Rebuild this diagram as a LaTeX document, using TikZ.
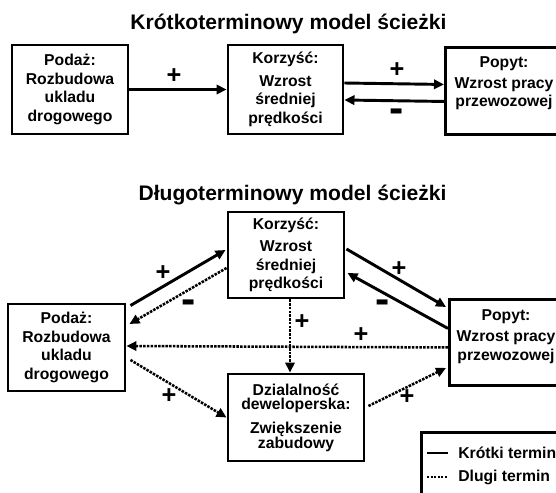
\documentclass[tikz,border=0pt]{standalone}
\usepackage{fontspec}
\setmainfont{Liberation Sans}
\usetikzlibrary{arrows.meta}

\begin{document}
\begin{tikzpicture}[x=0.75pt,y=-0.75pt,>=Triangle]
  \tikzset{
    box/.style={draw, line width=2.2pt, align=center, inner sep=1pt, font=\bfseries\fontsize{11.8}{13.9}\selectfont},
    boxtext/.style={align=center, inner sep=0pt, font=\bfseries\fontsize{11.8}{13.9}\selectfont},
    heading/.style={font=\bfseries\fontsize{15.8}{18}\selectfont},
    plus/.style={font=\bfseries\fontsize{19}{19}\selectfont, inner sep=0pt},
    minus/.style={font=\bfseries\fontsize{32}{32}\selectfont, inner sep=0pt},
    shortarr/.style={line width=2.2pt, -{Triangle[length=7.5pt,width=7pt]}},
    longarr/.style={line width=1.9pt, dash pattern=on 1.9pt off 0.9pt, -{Triangle[length=7.5pt,width=7pt]}},
    legtext/.style={anchor=west, inner sep=0pt, font=\bfseries\fontsize{11.8}{13.9}\selectfont}
  }
  \useasboundingbox (0,0) rectangle (556,492);
  \clip (0,0) rectangle (556,492);
  % short term
  \node[heading] (title1) at (288.5,24) {Krótkoterminowy model ścieżki};
  \node[box, minimum width=87pt, minimum height=66.75pt] (p1) at (70,89.5) {Podaż:\\Rozbudowa\\ukladu\\drogowego};
  \node[box, minimum width=86.25pt, minimum height=66.75pt] (k1) at (285.5,89.5) {Korzyść:\\[3pt]Wzrost\\średniej\\prędkości};
  \node[box, minimum width=100pt, minimum height=65.25pt, anchor=north west] (pp1) at (444,46) {};
  \node[boxtext, anchor=north] (pp1t) at (504,56) {Popyt:\\[2pt]Wzrost pracy\\przewozowej};
  \draw[shortarr] (p1) -- (k1);
  \draw[shortarr] ([shift={(0,-6.5)}]k1.east) -- ([shift={(0,-6.5)}]pp1.west);
  \draw[shortarr] ([shift={(0,10.5)}]pp1.west) -- ([shift={(0,10.5)}]k1.east);
  \node[plus] (s1) at (174,76) {+};
  \node[plus] (s2) at (397,70) {+};
  \node[minus] (s3) at (397,116) {-};
  % long term
  \node[heading] (title2) at (292.5,195) {Długoterminowy model ścieżki};
  \node[box, minimum width=87pt, minimum height=64.5pt] (k2) at (286,255) {Korzyść:\\[3pt]Wzrost\\średniej\\prędkości};
  \node[box, minimum width=87.75pt, minimum height=65.25pt] (p2) at (66.5,347.5) {Podaż:\\Rozbudowa\\ukladu\\drogowego};
  \node[box, minimum width=100pt, minimum height=64.5pt, anchor=north west] (pp2) at (448,298) {};
  \node[boxtext, anchor=north] (pp2t) at (506,309.5) {Popyt:\\[2pt]Wzrost pracy\\przewozowej};
  \node[box, minimum width=102pt, minimum height=65.25pt, font={\bfseries\fontsize{11.8}{10.9}\selectfont\lineskiplimit=-20pt}] (d) at (296,417.5) {Dzialalność\\deweloperska:\\[7pt]Zwiększenie\\zabudowy};
  \draw[shortarr] ([shift={(4,3)}]p2.north east) -- ([shift={(-1,-5)}]k2.west);
  \draw[longarr] ([shift={(0,13)}]k2.west) -- ([shift={(3,-23.5)}]p2.east);
  \draw[shortarr] ([shift={(1,-6)}]k2.east) -- ([shift={(-2,9)}]pp2.north west);
  \draw[shortarr] ([shift={(0,-14)}]pp2.west) -- ([shift={(2,18)}]k2.east);
  \draw[longarr] ([shift={(4,0)}]k2.south) -- ([shift={(-6,0)}]d.north);
  \draw[longarr] ([shift={(0,5)}]pp2.west) -- ([shift={(0,-1.5)}]p2.east);
  \draw[longarr] ([shift={(4,12.5)}]p2.east) -- (d.west);
  \draw[longarr] ([shift={(3,-11.5)}]d.east) -- ([shift={(-2,-19)}]pp2.south west);
  \node[plus] (s4) at (163,273) {+};
  \node[minus] (s5) at (189,307) {-};
  \node[plus] (s6) at (399,269) {+};
  \node[minus] (s7) at (383,307) {-};
  \node[plus] (s8) at (302,322) {+};
  \node[plus] (s9) at (361,335) {+};
  \node[plus] (s10) at (169,396) {+};
  \node[plus] (s11) at (407,397) {+};
  % legend
  \node[draw, line width=2.2pt, minimum width=120pt, minimum height=60pt, anchor=north west] (leg) at (420,431) {};
  \node[legtext] (kt) at (458,453) {Krótki termin};
  \node[legtext] (dt) at (458,477) {Dlugi termin};
  \draw[line width=1.5pt] ([shift={(-31,0)}]kt.west) -- ([shift={(-10,0)}]kt.west);
  \draw[line width=1.5pt, dash pattern=on 1.5pt off 1.2pt] ([shift={(-31,0)}]dt.west) -- ([shift={(-10,0)}]dt.west);
\end{tikzpicture}
\end{document}
